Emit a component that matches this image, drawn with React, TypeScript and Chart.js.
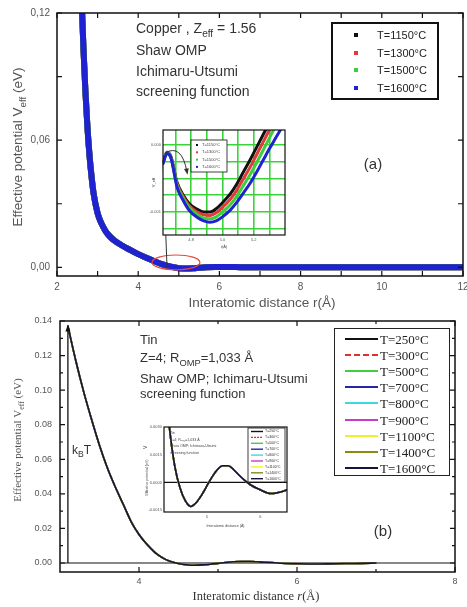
import React, { useEffect, useRef } from "react";
import { Chart, registerables } from "chart.js";

Chart.register(...registerables);

const SANS = '"Liberation Sans", Arial, Helvetica, sans-serif';
const SERIF = '"Liberation Serif", "Times New Roman", Times, serif';

// ---------------- Panel (a): Copper ----------------
const cuLabels = ["T=1150°C", "T=1300°C", "T=1500°C", "T=1600°C"];
const cuColors = ["#111111", "#e03a3a", "#3ccf3c", "#1f22d0"];
const cuR = [2.6, 2.65, 2.7, 2.75, 2.8, 2.85, 2.9, 3.0, 3.1, 3.2, 3.3, 3.4, 3.6, 3.8, 4.0, 4.2, 4.4, 4.6, 4.8, 5.0, 5.2, 5.4, 5.6, 5.9, 6.2, 6.6, 7, 8, 9, 10, 11, 12];
const cuV = [0.13, 0.104, 0.083, 0.066, 0.053, 0.043, 0.035, 0.0255, 0.0205, 0.017, 0.0146, 0.0128, 0.0103, 0.0082, 0.0062, 0.0045, 0.0029, 0.0014, 0.0003, -0.0004, -0.0006, -0.0004, -0.0001, 0.0002, 0.0002, 0, 0, 0, 0, 0, 0, 0];
const cuXTicks = [2, 3, 4, 5, 6, 7, 8, 9, 10, 11, 12];
const cuXLabeled = [2, 4, 6, 8, 10, 12];
const cuYTicks = [0, 0.03, 0.06, 0.09, 0.12];
const cuYLabeled = [0, 0.06, 0.12];

// inset of panel (a)
const cuInsetR = [4.62, 4.645, 4.67, 4.71, 4.75, 4.79, 4.84, 4.88, 4.92, 4.96, 5.0, 5.05, 5.09, 5.13, 5.18, 5.22, 5.26, 5.3, 5.34, 5.38];
const cuInsetV1150 = [-0.00025, -0.00011, -0.00017, -0.00056, -0.00075, -0.00088, -0.00096, -0.001, -0.001, -0.00095, -0.00086, -0.00073, -0.00059, -0.00042, -0.00021, -0.00003, 0.00015, 0.00033, 0.00052, 0.0007];
const cuInsetV1300 = [-0.00026, -0.00012, -0.00018, -0.00058, -0.00077, -0.00091, -0.001, -0.00104, -0.00105, -0.00101, -0.00093, -0.00081, -0.00068, -0.00052, -0.00032, -0.00014, 0.00004, 0.00022, 0.0004, 0.0006];
const cuInsetV1500 = [-0.00027, -0.00012, -0.00018, -0.0006, -0.0008, -0.00094, -0.00104, -0.00109, -0.0011, -0.00107, -0.001, -0.00089, -0.00077, -0.00062, -0.00043, -0.00026, -0.00008, 0.0001, 0.00028, 0.00046];
const cuInsetV1600 = [-0.00028, -0.00013, -0.00019, -0.00063, -0.00083, -0.00098, -0.00108, -0.00113, -0.00115, -0.00113, -0.00107, -0.00097, -0.00086, -0.00073, -0.00056, -0.0004, -0.00023, -0.00006, 0.0001, 0.00026];
const cuInsetXTicks = [4.7, 4.8, 4.9, 5.0, 5.1, 5.2, 5.3];
const cuInsetXLabeled = [4.8, 5.0, 5.2];
const cuInsetYTicks = [-0.00125, -0.001, -0.00075, -0.0005, -0.00025, 0];
const cuInsetYLabeled = [-0.001, 0];

// marks linking the zoomed region with the inset
const ellipseR = 4.93, ellipseV = 0.0023, ellipseRx = 0.59, ellipseRy = 0.0035;
const connectorR = [4.71, 4.61];
const connectorV = [0.0, 0.0507];
const insetArrowR = [4.633, 4.74, 4.773];
const insetArrowV = [-0.00012, 0.00002, -0.0004];

// ---------------- Panel (b): Tin ----------------
const snLabels = ["T=250°C", "T=300°C", "T=500°C", "T=700°C", "T=800°C", "T=900°C", "T=1100°C", "T=1400°C", "T=1600°C"];
const snColors = ["#111111", "#e03030", "#44cc44", "#2626a6", "#3fd8e0", "#c83ccc", "#f0f028", "#8a8a10", "#14143c"];
const snDashed = [false, true, false, false, false, false, false, false, false];
const snR = [3.1, 3.2, 3.3, 3.4, 3.5, 3.6, 3.7, 3.8, 3.9, 4.0, 4.1, 4.2, 4.3, 4.4, 4.5, 4.6, 4.7, 4.8, 4.9, 5.0, 5.1, 5.2, 5.3, 5.4, 5.5, 5.6, 5.8, 6.0, 6.2, 6.4, 6.6, 6.8, 7.0];
const snV = [0.137, 0.117, 0.099, 0.083, 0.068, 0.055, 0.044, 0.034, 0.024, 0.0165, 0.0108, 0.0062, 0.003, 0.0009, -0.0003, -0.001, -0.0013, -0.0011, -0.0007, -0.0002, 0.0003, 0.0007, 0.0009, 0.0009, 0.0007, 0.0004, -0.0001, -0.0004, -0.0006, -0.0005, -0.0003, -0.0002, 0];
const zeroR = [3, 8];
const zeroV = [0, 0];
const kbtR = 3.1;
const kbtV = 0.138;
const snXTicks = [4, 5, 6, 7, 8];
const snXLabeled = [4, 6, 8];
const snYTicks = [0, 0.01, 0.02, 0.03, 0.04, 0.05, 0.06, 0.07, 0.08, 0.09, 0.1, 0.11, 0.12, 0.13, 0.14];
const snYLabeled = [0, 0.02, 0.04, 0.06, 0.08, 0.1, 0.12, 0.14];
const snInsetXTicks = [4.5, 5, 5.5, 6];
const snInsetXLabeled = [5, 6];
const snInsetYTicks = [-0.0015, 0, 0.0015, 0.003];
const snInsetYLabeled = [-0.0015, 0, 0.0015, 0.003];
const snInsetText = ["Tin", "Z=4; R\u2092\u2098\u209a=1,033 Å", "Shaw OMP; Ichimaru-Utsumi", "screening function"];

// ---------------- helpers ----------------
const pts = (xs: number[], ys: number[]) => xs.map((x, i) => ({ x, y: ys[i] }));

function axis(o: any) {
  return {
    type: "linear",
    min: o.min,
    max: o.max,
    grid: o.grid || { display: false, drawTicks: false },
    border: { display: false },
    afterBuildTicks: (s: any) => {
      s.ticks = o.ticks.map((v: number) => ({ value: v }));
    },
    afterFit: (s: any) => {
      if (o.height !== undefined) s.height = o.height;
      if (o.width !== undefined) s.width = o.width;
      s.paddingLeft = 0;
      s.paddingRight = 0;
      s.paddingTop = 0;
      s.paddingBottom = 0;
    },
    ticks: {
      autoSkip: false,
      maxRotation: 0,
      minRotation: 0,
      padding: o.padding,
      color: o.color || "#555",
      font: { family: o.family || SANS, size: o.size },
      callback: (v: number) => (o.labeled.includes(v) ? o.fmt(v) : ""),
    },
  };
}

function framePlugin(xMajor: number[], yMajor: number[], majorLen: number, minorLen: number, lw: number) {
  return {
    id: "frameTicks",
    afterDatasetsDraw(chart: any) {
      const { ctx, chartArea: a, scales } = chart;
      const x = scales.x, y = scales.y;
      ctx.save();
      ctx.strokeStyle = "#111";
      ctx.lineWidth = lw;
      ctx.strokeRect(a.left, a.top, a.right - a.left, a.bottom - a.top);
      ctx.lineWidth = 1.2;
      ctx.beginPath();
      x.ticks.forEach((t: any) => {
        const p = x.getPixelForValue(t.value);
        const L = xMajor.includes(t.value) ? majorLen : minorLen;
        ctx.moveTo(p, a.bottom);
        ctx.lineTo(p, a.bottom - L);
        ctx.moveTo(p, a.top);
        ctx.lineTo(p, a.top + L);
      });
      y.ticks.forEach((t: any) => {
        const p = y.getPixelForValue(t.value);
        const L = yMajor.includes(t.value) ? majorLen : minorLen;
        ctx.moveTo(a.left, p);
        ctx.lineTo(a.left + L, p);
        ctx.moveTo(a.right, p);
        ctx.lineTo(a.right - L, p);
      });
      ctx.stroke();
      ctx.restore();
    },
  };
}

const whiteBg = {
  id: "whiteBg",
  beforeDraw(chart: any) {
    const { ctx, chartArea: a } = chart;
    ctx.save();
    ctx.fillStyle = "#fff";
    ctx.fillRect(a.left, a.top, a.right - a.left, a.bottom - a.top);
    ctx.restore();
  },
};

const baseOptions = (padding: any, scales: any) => ({
  responsive: false,
  maintainAspectRatio: false,
  animation: false,
  devicePixelRatio: 1,
  layout: { padding },
  plugins: { legend: { display: false }, tooltip: { enabled: false }, title: { display: false } },
  elements: { point: { radius: 0 }, line: { cubicInterpolationMode: "monotone", borderCapStyle: "round", borderJoinStyle: "round" } },
  events: [],
  scales,
});

// ---------------- chart configs ----------------
function cuConfig(): any {
  const marks = {
    id: "cuMarks",
    afterDatasetsDraw(chart: any) {
      const { ctx, scales } = chart;
      const x = scales.x, y = scales.y;
      ctx.save();
      const cx = x.getPixelForValue(ellipseR), cy = y.getPixelForValue(ellipseV);
      const rx = Math.abs(x.getPixelForValue(ellipseR + ellipseRx) - cx);
      const ry = Math.abs(y.getPixelForValue(ellipseV + ellipseRy) - cy);
      ctx.strokeStyle = "#e8463c";
      ctx.lineWidth = 1.2;
      ctx.beginPath();
      ctx.ellipse(cx, cy, rx, ry, 0, 0, Math.PI * 2);
      ctx.stroke();
      ctx.strokeStyle = "#333";
      ctx.lineWidth = 1;
      ctx.beginPath();
      ctx.moveTo(x.getPixelForValue(connectorR[0]), y.getPixelForValue(connectorV[0]));
      ctx.lineTo(x.getPixelForValue(connectorR[1]), y.getPixelForValue(connectorV[1]));
      ctx.stroke();
      ctx.restore();
    },
  };
  const n = cuLabels.length;
  return {
    type: "line",
    data: {
      datasets: cuLabels.map((lab, i) => ({
        label: lab,
        data: pts(cuR, cuV),
        borderColor: cuColors[i],
        borderWidth: 6,
        fill: false,
        order: n - i,
      })),
    },
    options: baseOptions({ top: 13, right: 4, left: 0, bottom: 0 }, {
      x: axis({ min: 2, max: 12, ticks: cuXTicks, labeled: cuXLabeled, fmt: (v: number) => String(v), size: 10, padding: 5, height: 36 }),
      y: axis({ min: -0.0041, max: 0.12, ticks: cuYTicks, labeled: cuYLabeled, fmt: (v: number) => v.toFixed(2).replace(".", ","), size: 10, padding: 7, width: 57 }),
    }),
    plugins: [marks, framePlugin(cuXLabeled, cuYLabeled, 5, 5, 1.5)],
  };
}

function cuInsetConfig(): any {
  const series = [cuInsetV1150, cuInsetV1300, cuInsetV1500, cuInsetV1600];
  const extras = {
    id: "cuInsetExtras",
    afterDatasetsDraw(chart: any) {
      const { ctx, chartArea: a, scales } = chart;
      const x = scales.x, y = scales.y;
      ctx.save();
      ctx.strokeStyle = "#111";
      ctx.lineWidth = 1.2;
      ctx.strokeRect(a.left, a.top, a.right - a.left, a.bottom - a.top);
      // curved arrow
      const p0 = [x.getPixelForValue(insetArrowR[0]), y.getPixelForValue(insetArrowV[0])];
      const p1 = [x.getPixelForValue(insetArrowR[1]), y.getPixelForValue(insetArrowV[1])];
      const p2 = [x.getPixelForValue(insetArrowR[2]), y.getPixelForValue(insetArrowV[2])];
      ctx.strokeStyle = "#333";
      ctx.lineWidth = 1;
      ctx.beginPath();
      ctx.moveTo(p0[0], p0[1]);
      ctx.quadraticCurveTo(p1[0], p1[1], p2[0], p2[1]);
      ctx.stroke();
      const ang = Math.atan2(p2[1] - p1[1], p2[0] - p1[0]);
      ctx.fillStyle = "#333";
      ctx.beginPath();
      ctx.moveTo(p2[0] + Math.cos(ang) * 3, p2[1] + Math.sin(ang) * 3);
      ctx.lineTo(p2[0] + Math.cos(ang + 2.5) * 4, p2[1] + Math.sin(ang + 2.5) * 4);
      ctx.lineTo(p2[0] + Math.cos(ang - 2.5) * 4, p2[1] + Math.sin(ang - 2.5) * 4);
      ctx.closePath();
      ctx.fill();
      // small legend
      const lx = a.left + 28, ly = a.top + 10, lw = 36, lh = 32;
      ctx.fillStyle = "#fff";
      ctx.fillRect(lx, ly, lw, lh);
      ctx.strokeStyle = "#111";
      ctx.lineWidth = 0.8;
      ctx.strokeRect(lx, ly, lw, lh);
      ctx.font = `4px ${SANS}`;
      ctx.textBaseline = "middle";
      cuLabels.forEach((lab, i) => {
        const yy = ly + 5 + i * 7.3;
        ctx.fillStyle = cuColors[i];
        ctx.fillRect(lx + 5, yy - 1, 2, 2);
        ctx.fillStyle = "#444";
        ctx.fillText(lab, lx + 11, yy);
      });
      // axis titles
      ctx.fillStyle = "#444";
      ctx.textAlign = "center";
      ctx.fillText("r(Å)", (a.left + a.right) / 2, a.bottom + 12);
      ctx.translate(a.left - 9, (a.top + a.bottom) / 2);
      ctx.rotate(-Math.PI / 2);
      ctx.fillText("V_eff", 0, 0);
      ctx.restore();
    },
  };
  const n = series.length;
  return {
    type: "line",
    data: {
      datasets: series.map((s, i) => ({
        label: cuLabels[i],
        data: pts(cuInsetR, s),
        borderColor: cuColors[i],
        borderWidth: 3,
        fill: false,
        order: n - i,
      })),
    },
    options: baseOptions({ top: 5, right: 5, left: 0, bottom: 0 }, {
      x: axis({ min: 4.62, max: 5.4, ticks: cuInsetXTicks, labeled: cuInsetXLabeled, fmt: (v: number) => v.toFixed(1), size: 4, padding: 2, height: 20, grid: { display: true, drawTicks: false, color: "#3ad43a", lineWidth: 1.6 } }),
      y: axis({ min: -0.00134, max: 0.00022, ticks: cuInsetYTicks, labeled: cuInsetYLabeled, fmt: (v: number) => v.toFixed(3), size: 4, padding: 2, width: 23, grid: { display: true, drawTicks: false, color: "#3ad43a", lineWidth: 1.6 } }),
    }),
    plugins: [whiteBg, extras],
  };
}

function snDatasets(dash: number[]) {
  const n = snLabels.length;
  const datasets: any[] = [
    { label: "zero", data: pts(zeroR, zeroV), borderColor: "#111", borderWidth: 1.2, fill: false, order: n + 1 },
  ];
  snLabels.forEach((lab, i) => {
    datasets.push({
      label: lab,
      data: pts(snR, snV),
      borderColor: snColors[i],
      borderWidth: 1.6,
      borderDash: snDashed[i] ? dash : [],
      fill: false,
      order: n - i,
    });
  });
  return datasets;
}

function snConfig(): any {
  const kbt = {
    id: "kbtArrow",
    afterDatasetsDraw(chart: any) {
      const { ctx, scales } = chart;
      const x = scales.x, y = scales.y;
      const px = x.getPixelForValue(kbtR), y0 = y.getPixelForValue(0), y1 = y.getPixelForValue(kbtV);
      ctx.save();
      ctx.strokeStyle = "#111";
      ctx.fillStyle = "#111";
      ctx.lineWidth = 1.3;
      ctx.beginPath();
      ctx.moveTo(px, y0);
      ctx.lineTo(px, y1 + 4);
      ctx.stroke();
      ctx.beginPath();
      ctx.moveTo(px, y1);
      ctx.lineTo(px - 2.5, y1 + 7);
      ctx.lineTo(px + 2.5, y1 + 7);
      ctx.closePath();
      ctx.fill();
      ctx.restore();
    },
  };
  return {
    type: "line",
    data: { datasets: snDatasets([4, 3]) },
    options: baseOptions({ top: 9, right: 12, left: 0, bottom: 0 }, {
      x: axis({ min: 3, max: 8, ticks: snXTicks, labeled: snXLabeled, fmt: (v: number) => String(v), size: 9, padding: 4, height: 35 }),
      y: axis({ min: -0.0052, max: 0.14, ticks: snYTicks, labeled: snYLabeled, fmt: (v: number) => v.toFixed(2), size: 9, padding: 8, width: 60 }),
    }),
    plugins: [kbt, framePlugin(snXLabeled, snYLabeled, 5, 3, 1.5)],
  };
}

function snInsetConfig(): any {
  const extras = {
    id: "snInsetExtras",
    afterDatasetsDraw(chart: any) {
      const { ctx, chartArea: a } = chart;
      ctx.save();
      ctx.strokeStyle = "#111";
      ctx.lineWidth = 1.2;
      ctx.strokeRect(a.left, a.top, a.right - a.left, a.bottom - a.top);
      // legend
      const lw = 37, lh = 54;
      const lx = a.right - lw - 2, ly = a.top + 1;
      ctx.fillStyle = "#fff";
      ctx.fillRect(lx, ly, lw, lh);
      ctx.lineWidth = 0.8;
      ctx.strokeRect(lx, ly, lw, lh);
      ctx.font = `3.5px ${SANS}`;
      ctx.textBaseline = "middle";
      snLabels.forEach((lab, i) => {
        const yy = ly + 3.5 + i * 5.9;
        ctx.strokeStyle = snColors[i];
        ctx.lineWidth = 1.4;
        ctx.setLineDash(snDashed[i] ? [2, 1] : []);
        ctx.beginPath();
        ctx.moveTo(lx + 3, yy);
        ctx.lineTo(lx + 15, yy);
        ctx.stroke();
        ctx.setLineDash([]);
        ctx.fillStyle = "#333";
        ctx.fillText(lab, lx + 17, yy);
      });
      // annotation text
      ctx.fillStyle = "#444";
      ctx.font = `3.6px ${SANS}`;
      snInsetText.forEach((t, i) => ctx.fillText(t, a.left + 6, a.top + 6 + i * 6.5));
      // axis titles
      ctx.textAlign = "center";
      ctx.font = `3.6px ${SANS}`;
      ctx.fillText("Interatomic distance (Å)", (a.left + a.right) / 2, a.bottom + 14);
      ctx.translate(a.left - 17, (a.top + a.bottom) / 2 + 8);
      ctx.rotate(-Math.PI / 2);
      ctx.fillText("Effective potential (eV)", 0, 0);
      ctx.restore();
      ctx.save();
      ctx.fillStyle = "#444";
      ctx.font = `5px ${SANS}`;
      ctx.translate(a.left - 17, a.top + 22);
      ctx.rotate(-Math.PI / 2);
      ctx.fillText("V", 0, 0);
      ctx.restore();
    },
  };
  return {
    type: "line",
    data: { datasets: snDatasets([3, 2]) },
    options: baseOptions({ top: 7, right: 5, left: 0, bottom: 0 }, {
      x: axis({ min: 4.2, max: 6.5, ticks: snInsetXTicks, labeled: snInsetXLabeled, fmt: (v: number) => String(v), size: 4, padding: 2, height: 20 }),
      y: axis({ min: -0.0016, max: 0.003, ticks: snInsetYTicks, labeled: snInsetYLabeled, fmt: (v: number) => v.toFixed(4), size: 4, padding: 2, width: 24 }),
    }),
    plugins: [whiteBg, extras],
  };
}

// ---------------- HTML text helpers ----------------
const Sub = ({ children }: any) => (
  <span style={{ fontSize: "0.72em", position: "relative", top: "0.38em" }}>{children}</span>
);

const Txt = ({ x, y, size, family, color, center, rotate, children }: any) => (
  <div
    style={{
      position: "absolute",
      left: x,
      top: y,
      transform: (center || rotate ? "translate(-50%,-50%)" : "translateY(-50%)") + (rotate ? " rotate(-90deg)" : ""),
      fontSize: size,
      fontFamily: family || SANS,
      color: color || "#333",
      lineHeight: 1,
      whiteSpace: "nowrap",
      pointerEvents: "none",
    }}
  >
    {children}
  </div>
);

export default function App() {
  const cuRef = useRef<HTMLCanvasElement>(null);
  const cuInsetRef = useRef<HTMLCanvasElement>(null);
  const snRef = useRef<HTMLCanvasElement>(null);
  const snInsetRef = useRef<HTMLCanvasElement>(null);

  useEffect(() => {
    const charts = [
      new Chart(cuRef.current as any, cuConfig()),
      new Chart(cuInsetRef.current as any, cuInsetConfig()),
      new Chart(snRef.current as any, snConfig()),
      new Chart(snInsetRef.current as any, snInsetConfig()),
    ];
    return () => charts.forEach((c) => c.destroy());
  }, []);

  const cv = (left: number, top: number, w: number, h: number) => ({
    position: "absolute" as const,
    left,
    top,
    width: w,
    height: h,
  });

  return (
    <div style={{ position: "fixed", left: 0, top: 0, width: 467, height: 607, background: "#fff", overflow: "hidden" }}>
      <canvas ref={cuRef} width={467} height={312} style={cv(0, 0, 467, 312)} />
      <canvas ref={snRef} width={467} height={295} style={cv(0, 312, 467, 295)} />
      <canvas ref={cuInsetRef} width={150} height={130} style={cv(140, 125, 150, 130)} />
      <canvas ref={snInsetRef} width={152} height={112} style={cv(140, 420, 152, 112)} />

      {/* Panel (a) texts */}
      <Txt x={18} y={147} size={13.5} color="#555" rotate>
        Effective potential V<Sub>eff</Sub> (eV)
      </Txt>
      <Txt x={262} y={303} size={13.5} color="#555" center>
        Interatomic distance r(Å)
      </Txt>
      <Txt x={136} y={28} size={14}>
        Copper , Z<Sub>eff</Sub> = 1.56
      </Txt>
      <Txt x={136} y={50} size={14}>Shaw OMP</Txt>
      <Txt x={136} y={71} size={14}>Ichimaru-Utsumi</Txt>
      <Txt x={136} y={91} size={14}>screening function</Txt>
      <Txt x={373} y={163} size={15} center>(a)</Txt>
      <div
        style={{
          position: "absolute",
          left: 331,
          top: 22,
          width: 108,
          height: 78,
          boxSizing: "border-box",
          border: "2px solid #111",
          background: "#fff",
        }}
      >
        {cuLabels.map((lab, i) => (
          <React.Fragment key={lab}>
            <div style={{ position: "absolute", left: 21, top: 11 + i * 17.7 - 2, width: 4, height: 4, background: cuColors[i] }} />
            <Txt x={44} y={11 + i * 17.7} size={11} color="#222">{lab}</Txt>
          </React.Fragment>
        ))}
      </div>

      {/* Panel (b) texts */}
      <Txt x={17} y={440} size={11} family={SERIF} color="#555" rotate>
        Effective potential V<Sub>eff</Sub> (eV)
      </Txt>
      <Txt x={256} y={596} size={12.5} family={SERIF} color="#333" center>
        Interatomic distance <i>r</i>(Å)
      </Txt>
      <Txt x={140} y={339} size={13}>Tin</Txt>
      <Txt x={140} y={358} size={13}>
        Z=4; R<Sub>OMP</Sub>=1,033 Å
      </Txt>
      <Txt x={140} y={378} size={13}>Shaw OMP; Ichimaru-Utsumi</Txt>
      <Txt x={140} y={393} size={13}>screening function</Txt>
      <Txt x={72} y={450} size={12}>
        k<Sub>B</Sub>T
      </Txt>
      <Txt x={383} y={530} size={15} center>(b)</Txt>
      <div
        style={{
          position: "absolute",
          left: 334,
          top: 328,
          width: 116,
          height: 148,
          boxSizing: "border-box",
          border: "1.5px solid #222",
          background: "#fff",
        }}
      >
        {snLabels.map((lab, i) => (
          <React.Fragment key={lab}>
            <div
              style={{
                position: "absolute",
                left: 10,
                top: 10 + i * 16.1 - 1,
                width: 33,
                height: 0,
                borderTop: `2px ${snDashed[i] ? "dashed" : "solid"} ${snColors[i]}`,
              }}
            />
            <Txt x={45} y={10 + i * 16.1} size={13} family={SERIF} color="#222">{lab}</Txt>
          </React.Fragment>
        ))}
      </div>
    </div>
  );
}
